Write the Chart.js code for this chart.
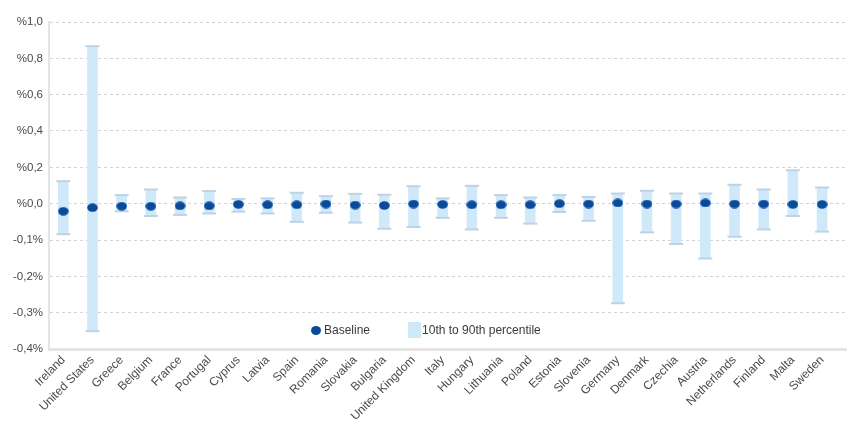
<!DOCTYPE html>
<html>
<head>
<meta charset="utf-8">
<script src="https://cdn.jsdelivr.net/npm/chart.js@4"></script>
<style>
  html, body { margin: 0; padding: 0; background: #ffffff; }
  #wrap { position: relative; width: 855px; height: 421px; }
  #legend { position: absolute; left: 311px; top: 322px; font-family: 'Liberation Sans', Arial, sans-serif; font-size: 12px; color: #3a3a3a; display: flex; align-items: center; }
  .item { display: flex; align-items: center; }
  .dot { width: 10px; height: 9px; border-radius: 50%; background: #0a4a9b; margin-right: 3px; }
  .box { width: 13px; height: 16px; background: #cfe9fb; margin-right: 1px; margin-left: 38px; }
</style>
</head>
<body>
<div id="wrap">
  <canvas id="c" width="855" height="421"></canvas>
  <div id="legend">
    <div class="item"><div class="dot"></div><span>Baseline</span></div>
    <div class="item"><div class="box"></div><span>10th to 90th percentile</span></div>
  </div>
</div>
<script>
const categories = ['Ireland','United States','Greece','Belgium','France','Portugal','Cyprus','Latvia','Spain','Romania','Slovakia','Bulgaria','United Kingdom','Italy','Hungary','Lithuania','Poland','Estonia','Slovenia','Germany','Denmark','Czechia','Austria','Netherlands','Finland','Malta','Sweden'];
const baseline = [-0.021,-0.011,-0.007,-0.007,-0.006,-0.006,-0.002,-0.003,-0.003,-0.001,-0.004,-0.005,-0.001,-0.002,-0.003,-0.003,-0.003,0.000,-0.001,0.004,-0.001,-0.001,0.004,-0.001,-0.001,-0.002,-0.002];
const p10 = [-0.084,-0.351,-0.021,-0.034,-0.031,-0.027,-0.022,-0.027,-0.050,-0.025,-0.052,-0.069,-0.064,-0.039,-0.071,-0.039,-0.055,-0.023,-0.047,-0.274,-0.079,-0.111,-0.151,-0.091,-0.071,-0.034,-0.077];
const p90 = [0.124,0.867,0.047,0.078,0.034,0.069,0.026,0.029,0.060,0.041,0.054,0.049,0.096,0.029,0.098,0.047,0.034,0.047,0.037,0.056,0.071,0.056,0.056,0.104,0.078,0.184,0.089];
// The original axis is labelled in steps of 0.2 above zero and 0.1 below zero, evenly spaced.
const yTickValues = [-0.4,-0.3,-0.2,-0.1,0.0,0.2,0.4,0.6,0.8,1.0];

const toAxis = v => v >= 0 ? v / 2 : v;
const fromAxis = t => t >= 0 ? t * 2 : t;
const fmt = t => {
  const v = fromAxis(t);
  const s = Math.abs(v).toFixed(1).replace('.', ',');
  return v >= -1e-9 ? '%' + s : '-' + s + '%';
};

// ellipse marker for baseline dots
const dotImg = document.createElement('canvas');
dotImg.width = 11; dotImg.height = 9;
(() => {
  const g = dotImg.getContext('2d');
  g.fillStyle = '#0a4a9b';
  g.beginPath();
  g.ellipse(5.5, 4.5, 5.3, 4.2, 0, 0, Math.PI * 2);
  g.fill();
})();

const FONT = "'Liberation Sans', Arial, sans-serif";

new Chart(document.getElementById('c'), {
  type: 'bar',
  data: {
    datasets: [
      {
        type: 'scatter',
        label: 'Baseline',
        data: baseline.map((v, i) => ({ x: i, y: toAxis(v) })),
        pointStyle: dotImg,
        pointRadius: 5,
        order: 0
      },
      {
        type: 'scatter',
        label: 'caps',
        data: p10.map((v, i) => ({ x: i, y: toAxis(v) })).concat(p90.map((v, i) => ({ x: i, y: toAxis(v) }))),
        pointStyle: 'line',
        pointRadius: 7,
        borderColor: '#bdd3e3',
        borderWidth: 2,
        order: 1
      },
      {
        type: 'bar',
        label: '10th to 90th percentile',
        data: p10.map((v, i) => ({ x: i, y: [toAxis(v), toAxis(p90[i])] })),
        backgroundColor: '#cfe9fb',
        borderWidth: 0,
        barThickness: 10,
        order: 2
      }
    ]
  },
  options: {
    responsive: false,
    animation: false,
    layout: { padding: { top: 22, right: 3, left: 0, bottom: 0 } },
    plugins: { legend: { display: false }, tooltip: { enabled: false } },
    scales: {
      x: {
        type: 'linear',
        offset: false,
        min: -0.49,
        max: 26.82,
        afterBuildTicks: s => { s.ticks = categories.map((_, i) => ({ value: i })); },
        grid: { display: false, drawTicks: false, offset: false },
        border: { display: true, color: '#e4e4e4', width: 3 },
        ticks: {
          autoSkip: false,
          maxRotation: 45,
          minRotation: 45,
          padding: 4,
          color: '#4a4a4a',
          font: { family: FONT, size: 12 },
          callback: v => (Number.isInteger(v) && categories[v]) ? categories[v] : ''
        },
        afterFit: s => { s.height = 72; }
      },
      y: {
        type: 'linear',
        min: -0.4,
        max: 0.5,
        afterBuildTicks: s => { s.ticks = yTickValues.map(v => ({ value: toAxis(v) })); },
        grid: {
          drawTicks: false,
          color: ctx => (ctx.tick && ctx.tick.value <= -0.399) ? 'rgba(0,0,0,0)' : '#d4d4d4',
          lineWidth: 1
        },
        border: { display: true, color: '#e4e4e4', width: 2, dash: [3, 3] },
        ticks: {
          padding: 6,
          color: '#4a4a4a',
          font: { family: FONT, size: 11.5 },
          callback: v => fmt(v)
        },
        afterFit: s => { s.width = 49; }
      }
    }
  }
});
</script>
</body>
</html>
